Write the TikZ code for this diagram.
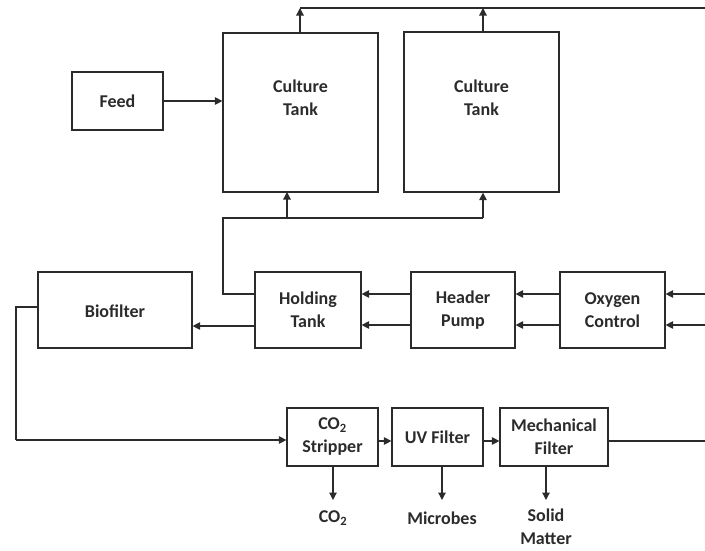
\documentclass[tikz,border=0pt]{standalone}
\usepackage{fontspec}
\setmainfont{Carlito}
\usetikzlibrary{arrows.meta,calc}
\definecolor{ink}{HTML}{2B2B2B}
\begin{document}
\begin{tikzpicture}[x=1pt,y=-1pt,
  line width=1.2pt, draw=ink,
  blk/.style={draw=ink, line width=1.2pt, rectangle, inner sep=0pt},
  txt/.style={font=\fontsize{18}{23}\selectfont\bfseries, text=ink, align=center, inner sep=0pt},
  flow/.style={draw=ink, line width=1.2pt, -{Triangle[length=7.5pt,width=7.5pt]}},
  pipe/.style={draw=ink, line width=1.2pt}]
\useasboundingbox (0,0) rectangle (705,550);

% upper boxes
\node[blk, minimum width=91pt, minimum height=58pt] (feed) at (117.5,101) {};
\node[txt] (feedt) at (feed) {Feed};
\node[blk, minimum width=155pt, minimum height=159pt] (ct1) at (300.5,112.5) {};
\node[txt] (ct1t) at (300.5,98) {Culture\\Tank};
\node[blk, minimum width=155pt, minimum height=160pt] (ct2) at (481.5,112) {};
\node[txt] (ct2t) at (481.5,98) {Culture\\Tank};

% middle row
\node[blk, minimum width=154pt, minimum height=76pt] (bio) at (115,310) {};
\node[txt] (biot) at (115,311) {Biofilter};
\node[blk, minimum width=106pt, minimum height=76pt] (hold) at (308,310) {};
\node[txt] (holdt) at (hold) {Holding\\Tank};
\node[blk, minimum width=104pt, minimum height=76pt] (pump) at (463,310) {};
\node[txt] (pumpt) at (pump) {Header\\Pump};
\node[blk, minimum width=105pt, minimum height=76pt] (oxy) at (612.5,310) {};
\node[txt] (oxyt) at (oxy) {Oxygen\\Control};

% treatment line
\node[blk, minimum width=91pt, minimum height=58pt] (strip) at (332.5,437) {};
\node[txt] (stript) at (strip) {CO\textsubscript{2}\\Stripper};
\node[blk, minimum width=91pt, minimum height=58pt] (uv) at (437.5,437) {};
\node[txt] (uvt) at (uv) {UV Filter};
\node[blk, minimum width=108pt, minimum height=58pt] (mech) at (554,437) {};
\node[txt] (mecht) at (mech) {Mechanical\\Filter};

% outputs
\node[txt] (co2) at (333,518) {CO\textsubscript{2}};
\node[txt] (mic) at (442,518) {Microbes};
\node[txt, align=center] (sol) at (546,527) {Solid\\Matter};

% junctions and free ends
\coordinate (topL) at (300,8);
\coordinate (topR) at (705,8);
\coordinate (inA) at (705,294);
\coordinate (inB) at (705,325);
\coordinate (outM) at (705,441);
\coordinate (splitL) at (223,218);
\coordinate (splitR) at (483,218);
\coordinate (loopX) at (16,307);
\coordinate (loopB) at (16,440);

% overflow header
\draw[pipe] (topL) -- (topR);
\draw[flow] (ct1.north -| topL) -- (topL);
\draw[flow] (ct2.north -| splitR) -- (splitR |- topL);

% feed
\draw[flow] (feed.east) -- (feed.east -| ct1.west);

% supply to culture tanks
\draw[pipe] (hold.west |- inA) -- (splitL |- inA) -- (splitL) -- (splitR);
\draw[flow] (splitR) -- (splitR |- ct2.south);
\draw[flow] (287,218) -- (287,192);

% pump train
\draw[flow] (inA) -- (inA -| oxy.east);
\draw[flow] (inB) -- (inB -| oxy.east);
\draw[flow] (oxy.west |- inA) -- (inA -| pump.east);
\draw[flow] (oxy.west |- inB) -- (inB -| pump.east);
\draw[flow] (pump.west |- inA) -- (inA -| hold.east);
\draw[flow] (pump.west |- inB) -- (inB -| hold.east);
\draw[flow] (hold.west |- 0,326) -- (bio.east |- 0,326);

% return loop
\draw[pipe] (bio.west |- loopX) -- (loopX) -- (loopB);
\draw[flow] (loopB) -- (loopB -| strip.west);
\draw[flow] (strip.east |- outM) -- (uv.west |- outM);
\draw[flow] (uv.east |- outM) -- (mech.west |- outM);
\draw[pipe] (mech.east |- outM) -- (outM);

% discharges
\draw[flow] (333,466) -- (333,500);
\draw[flow] (442,466) -- (442,500);
\draw[flow] (546,466) -- (546,500);
\end{tikzpicture}
\end{document}
